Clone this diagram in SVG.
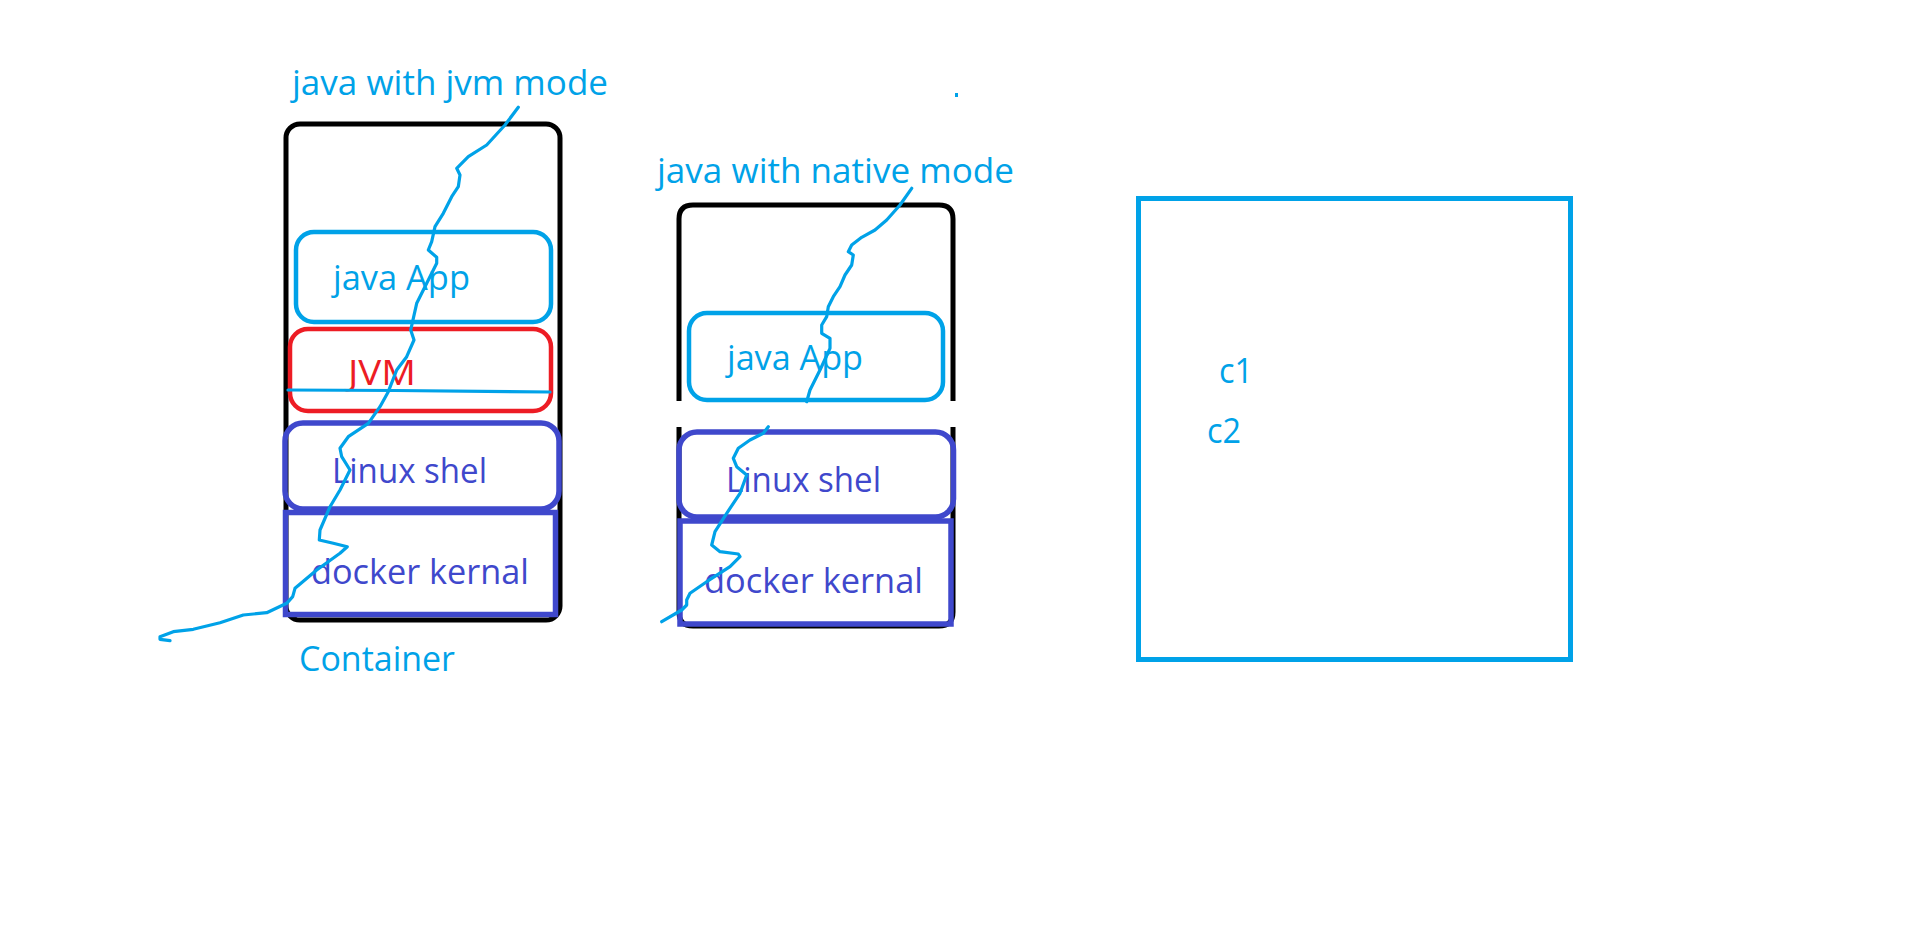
<svg xmlns="http://www.w3.org/2000/svg" width="1917" height="952" viewBox="0 0 1917 952">
<style>
.t{font-family:"Open Sans","Noto Sans","Liberation Sans",sans-serif;font-size:34px}
.cy{fill:#00A2E8}.rd{fill:#ED1C24}.ind{fill:#3F48CC}
.box{fill:none;stroke-linejoin:round}
.blk{stroke:#000;stroke-width:5;fill:none}
.bc{stroke:#00A2E8;stroke-width:4.5}
.br{stroke:#ED1C24;stroke-width:4.5}
.bi{stroke:#3F48CC;stroke-width:5.5}
.sq{fill:none;stroke:#00A2E8;stroke-width:3.2;stroke-linejoin:round;stroke-linecap:round}
</style>
<rect width="1917" height="952" fill="#fff"/>
<g id="container1">
<rect class="blk" x="286" y="124" width="274" height="496" rx="14"/>
<text class="t cy" x="292" y="95" textLength="316" lengthAdjust="spacingAndGlyphs">java with jvm mode</text>
<text class="t cy" x="299" y="671" textLength="156" lengthAdjust="spacingAndGlyphs">Container</text>
</g>
<g id="javaapp1">
<rect class="box bc" x="296" y="232" width="255" height="90" rx="18"/>
<text class="t cy" x="333" y="290" textLength="137" lengthAdjust="spacingAndGlyphs">java App</text>
</g>
<g id="jvm">
<rect class="box br" x="290" y="329" width="261" height="82" rx="18"/>
<text class="t rd" x="348" y="385" textLength="68" lengthAdjust="spacingAndGlyphs">JVM</text>
</g>
<g id="linux1">
<rect class="box bi" x="285" y="423" width="274" height="86" rx="18"/>
<text class="t ind" x="332" y="483" textLength="155" lengthAdjust="spacingAndGlyphs">Linux shel</text>
</g>
<g id="docker1">
<rect class="bi" fill="none" x="285.5" y="512.5" width="270" height="102"/>
<text class="t ind" x="311" y="584" textLength="218" lengthAdjust="spacingAndGlyphs">docker kernal</text>
</g>
<g id="container2">
<path class="blk" d="M679,401 V219 Q679,205 693,205 H939 Q953,205 953,219 V401 M679,427 V612 Q679,626 693,626 H939 Q953,626 953,612 V427"/>
<text class="t cy" x="657" y="183" textLength="357" lengthAdjust="spacingAndGlyphs">java with native mode</text>
</g>
<g id="javaapp2">
<rect class="box bc" x="689" y="313" width="254" height="87" rx="18"/>
<text class="t cy" x="727" y="370" textLength="136" lengthAdjust="spacingAndGlyphs">java App</text>
</g>
<g id="linux2">
<rect class="box bi" x="679" y="432" width="274.5" height="85" rx="18"/>
<text class="t ind" x="726" y="492" textLength="155" lengthAdjust="spacingAndGlyphs">Linux shel</text>
</g>
<g id="docker2">
<rect class="bi" fill="none" x="680" y="521" width="271" height="103"/>
<text class="t ind" x="704" y="593" textLength="219" lengthAdjust="spacingAndGlyphs">docker kernal</text>
</g>
<g id="cbox">
<rect fill="none" stroke="#00A2E8" stroke-width="5" x="1138.5" y="198.5" width="432" height="461"/>
<text class="t cy" x="1219" y="383" textLength="34" lengthAdjust="spacingAndGlyphs">c1</text>
<text class="t cy" x="1207" y="443" textLength="34" lengthAdjust="spacingAndGlyphs">c2</text>
</g>
<g id="dot">
<rect x="955" y="93" width="3" height="4" fill="#00A2E8"/>
</g>
<g id="connectors">
<path class="sq" stroke-width="4.5" d="M288,390 L395,390.5 L550,392"/>
<polyline class="sq" points="518.3,107.3 505,125 486.7,145 468.3,156.7 456.7,168.3 460,175 458.3,186.7 451.7,196.7 443.3,213.3 435,226.7 431.7,241.7 428.3,250 436.7,257.3 436.7,263.3 426.7,283.3 416.7,303.3 410.7,330 414,340 406.7,356.7 396.7,370 388.3,391.7 380,406.7 368.3,423.3 348.3,436.7 340,448.3 341.7,456.7 350,470 340,490 330,506.7 320,530 319.3,540 333.3,543.3 347.3,546.7 340,553.3 316.7,570 295,588.3 292.7,596.7 286.7,603.3 266.7,612.7 243.3,615 220,622.7 193.3,629.3 173.3,631.7 160,636.7 160,639.3 170,640.7"/>
<polyline class="sq" points="911.7,188.3 900,205 886.7,220 875,230 861.7,237.3 851.7,245 848.3,251.7 853.3,255 851.7,265 845,275 840,286.7 833.3,296.7 828.3,306.7 826.7,316.7 821.7,325 821.7,333.3 830,338.3 830,348.3 820,370 810,390 806.7,401.7"/>
<polyline class="sq" points="768.3,426.7 763.3,433.3 750,440 738.3,448.3 733.3,458.3 736.7,466.7 746.7,475 740,493.3 726.7,513.3 715,531.7 711.7,545 720,551.7 738.3,554 740,556.7 730,566.7 706.7,581.7 690,593.3 686.7,600 686.7,605 681.7,610 661.7,621.7"/>
</g>
</svg>
